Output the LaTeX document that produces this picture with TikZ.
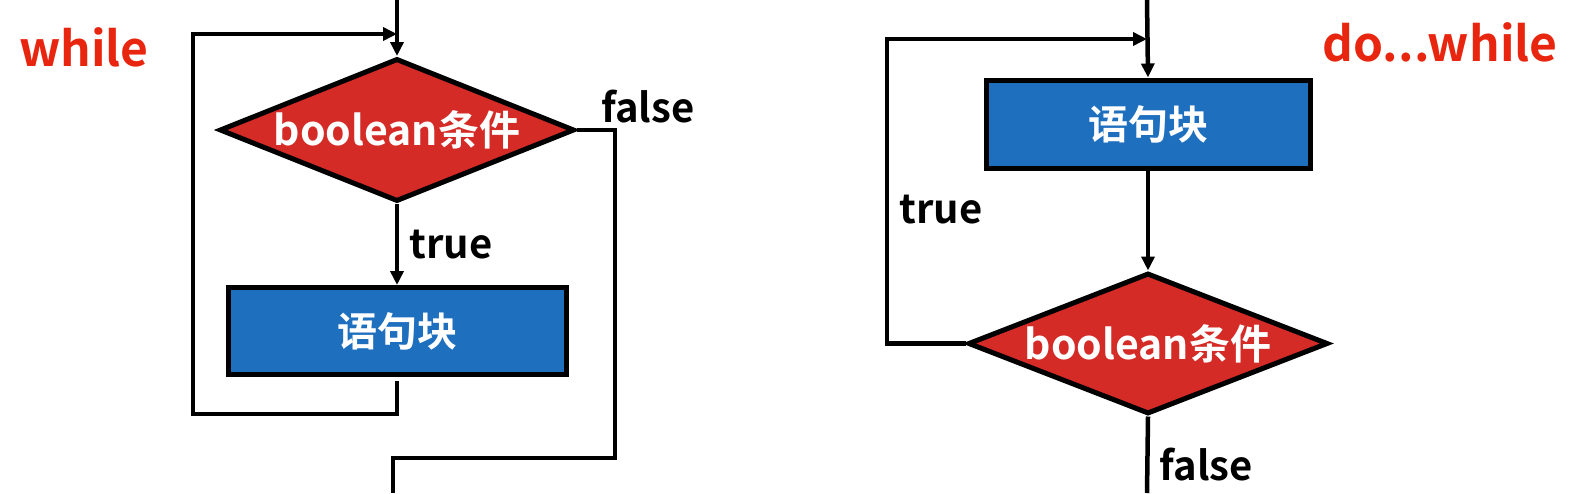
\documentclass[tikz,border=0pt]{standalone}
\usepackage{fontspec}
\setmainfont{Noto Sans CJK SC}[BoldFont={Noto Sans CJK SC Bold}]
\usetikzlibrary{arrows.meta,positioning,shapes.geometric}
\usepackage{xcolor}
\definecolor{condRed}{HTML}{D42B27}
\definecolor{blockBlue}{HTML}{1F6FBF}
\definecolor{titleRed}{HTML}{E8260F}
\tikzset{
    decision/.style={
        diamond,
        draw=black,
        line width=5pt,
        fill=condRed,
        text=white,
        font=\bfseries\fontsize{41}{44}\selectfont,
        inner sep=0pt,
        aspect=2.5,
        minimum width=355pt,
        minimum height=143pt
    },
    block/.style={
        rectangle,
        draw=black,
        line width=5pt,
        fill=blockBlue,
        text=white,
        font=\bfseries\fontsize{40}{44}\selectfont,
        minimum width=338pt,
        minimum height=87pt
    },
    label/.style={
        font=\bfseries\fontsize{40}{44}\selectfont,
        inner sep=10pt
    },
    title/.style={
        text=titleRed,
        font=\bfseries\fontsize{48}{52}\selectfont
    },
    line/.style={line width=4.5pt,draw=black},
    arrow/.style={line,-{Triangle[length=14pt,width=13pt]}}
}
\begin{document}
\begin{tikzpicture}[x=1pt,y=-1pt]
    \useasboundingbox (0,0) rectangle (1578,493);

    % while
    \node[title] (whileTitle) at (84,47) {while};
    \coordinate (lTop) at (397,0);
    \node[decision] (lCond) at (397,130) {boolean条件};
    \node[block, below=81pt of lCond] (lBody) {语句块};
    \coordinate (lBack) at (193,414);
    \coordinate (lUp) at (193,34);
    \coordinate (lOut) at (615,458);
    \coordinate (lExit) at (393,493);
    \node[label, anchor=south west, inner sep=0pt] (lFalse)
        at ([xshift=24pt,yshift=7pt]lCond.east) {false};

    \draw[arrow] (lTop) -- (lCond.north);
    \draw[arrow] (lCond.south) -- node[label, right] {true} (lBody.north);
    \draw[arrow] ([yshift=-4pt]lBody.south) |- (lBack) -- (lUp)
        -- (lTop |- lUp);
    \draw[line] (lCond.east) -| (lOut) -| (lExit);

    % do...while
    \node[title] (doTitle) at (1440,42) {do...while};
    \coordinate (rTop) at (1147,0);
    \node[block, minimum width=324pt, minimum height=88pt] (rBody)
        at (1148,124) {语句块};
    \node[decision, below=100pt of rBody, minimum width=360pt,
        minimum height=141pt] (rCond) {boolean条件};
    \coordinate (rUp) at (887,39);
    \coordinate (rExit) at (1147,493);

    \draw[arrow] (rTop) -- (rBody.north);
    \draw[arrow] (rBody.south) -- (rCond.north);
    \draw[arrow] (rCond.west) -| node[label, pos=0.72, right] {true} (rUp)
        -- (rTop |- rUp);
    \draw[line] (rCond.south) -- node[label, pos=0.63, right] {false} (rExit);
\end{tikzpicture}
\end{document}
